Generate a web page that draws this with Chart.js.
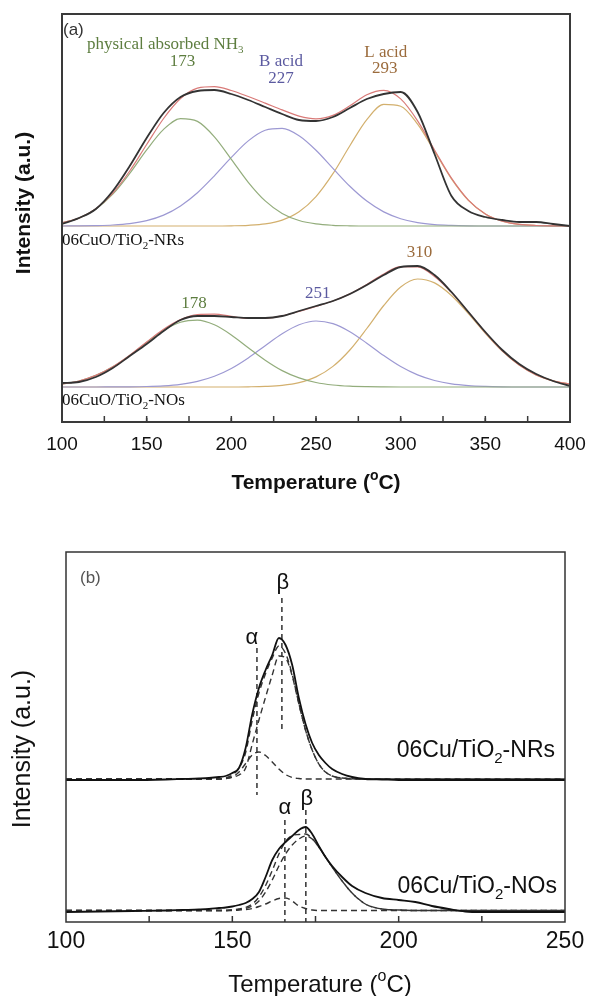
<!DOCTYPE html>
<html>
<head>
<meta charset="utf-8">
<script src="https://cdn.jsdelivr.net/npm/chart.js@4.4.1/dist/chart.umd.min.js"></script>
<style>
  html, body { margin: 0; padding: 0; background: #fff; }
  #wrap { position: relative; width: 590px; height: 996px; }
  canvas { position: absolute; left: 0; }
  #tpdA { top: 0; width: 590px; height: 500px; }
  #tpdB { top: 500px; width: 590px; height: 496px; }
</style>
</head>
<body>
<div id="wrap">
  <canvas id="tpdA" width="590" height="500"></canvas>
  <canvas id="tpdB" width="590" height="496"></canvas>
</div>
<script>
// ---- (a) NH3-TPD, 06CuO/TiO2-NRs and -NOs with three fitted peaks each ----
const tempA = [100,110,120,130,140,150,160,170,180,190,200,210,220,230,240,250,260,270,280,290,300,310,320,330,340,350,360,370,380,390,400];

// heights above each trace's own baseline
const nrsExp    = [2,8,17,35,60,88,113,129,135,136,132,126,119,112,106,105,109,118,127,132,134,114,72,30,15,9,6,4,4,2,0];
const nrsFit    = [3.2,7.9,17.3,32.8,55.0,81.5,107.5,127.5,137.9,139.4,135.5,129.5,122.9,116.1,109.9,107.2,110.6,120.2,131.3,135.7,127.1,105.2,76.0,47.8,25.9,12.1,4.9,1.7,0.5,0.1,0];
const nrsPhys   = [3.2,7.8,16.9,31.8,52.6,76.1,96.6,107.4,104.6,89.2,66.7,43.7,25.1,12.6,5.5,2.1,0.7,0.2,0,0,0,0,0,0,0,0,0,0,0,0,0];
const nrsBacid  = [0,0.1,0.4,1.0,2.4,5.4,10.9,20.1,33.3,50.2,68.6,85.1,95.7,97.6,90.2,75.7,57.6,39.7,24.9,14.1,7.3,3.4,1.4,0.6,0.2,0,0,0,0,0,0];
const nrsLacid  = [0,0,0,0,0,0,0,0,0,0,0.2,0.7,2.1,5.9,14.2,29.4,52.3,80.3,106.4,121.6,119.8,101.8,74.6,47.2,25.7,12.1,4.9,1.7,0.5,0.1,0];

const nosExp    = [4,5,10,19,31,43,56,67,71,71,70,69,69,71,76,81,86,93,102,112,120,121,112,95,75,55,37,23,13,6,1];
const nosFit    = [2.8,6.0,11.6,20.3,31.8,45.1,57.8,67.5,72.5,72.9,70.6,68.5,68.7,71.2,75.6,80.6,86.0,93.1,102.6,113.0,120.4,120.1,110.6,94.6,74.8,54.3,36.1,21.9,12.1,6.2,2.8];
const nosPhys   = [2.8,6.0,11.6,20.2,31.6,44.6,56.6,64.8,66.9,62.2,52.1,39.3,26.8,16.4,9.1,4.5,2.0,0.8,0.3,0.1,0,0,0,0,0,0,0,0,0,0,0];
const nosBacid  = [0,0,0,0.1,0.2,0.5,1.2,2.7,5.6,10.7,18.5,29.0,41.3,53.2,62.2,66.0,63.4,55.3,43.8,31.4,20.4,12.1,6.5,3.1,1.4,0.6,0.2,0,0,0,0];
const nosLacid  = [0,0,0,0,0,0,0,0,0,0,0,0.2,0.6,1.6,4.3,10.1,20.6,37.0,58.5,81.5,100.0,108,104.1,91.5,73.4,53.7,35.9,21.9,12.1,6.2,2.8];

const peaksNRs = [173, 227, 293];
const peaksNOs = [178, 251, 310];
const ticksA = [100, 150, 200, 250, 300, 350, 400];

// ---- (b) H2-TPR, 06Cu/TiO2-NRs and -NOs with alpha/beta components ----
const tempB = [100,110,120,130,135,140,143,146,148,150,152,154,156,158,160,162,164,166,168,170,172,174,176,178,180,183,186,190,195,200,205,210,215,220,225,230,240,250];

const nrsTpr      = [0,0,0,0.5,1,1.5,2,3,4,7,12,32,66,92,110,125,142,135,115,82,56,37,25,17,11,6,3,1,0.5,0,0,0,0,0,0,0,0,0];
const nrsTprFit   = [1,1,1,1,1,1,1,1,2,5,12,27.5,60,87,106.5,122,134,126.5,105.5,76.5,50,30,16,8,4,2,1.2,1,1,1,1,1,1,1,1,1,1,1];
const nrsAlpha    = [1,1,1,1,1,1,1,1,1.5,3,8,16.5,25,28,24.5,18,11,5.5,2.5,1.5,1,1,1,1,1,1,1,1,1,1,1,1,1,1,1,1,1,1];
const nrsBeta     = [1,1,1,1,1,1,1,1,1.5,3,5,12,36,60,83,105,124,122,104,76,50,30,16,8,4,2,1.2,1,1,1,1,1,1,1,1,1,1,1];

const nosTpr      = [0,0.5,1,1.5,2,2.5,3,4,4.5,5.5,7,9,13,20,35,52,63,70,76,82,85,78,66,55,46,35,26,19,14,12,10,6,3,0.5,0,0,0,0];
const nosTprFit   = [1.5,1.5,1.5,1.5,1.5,1.5,1.5,1.5,1.5,2,3,4.5,8,15,26.5,41.5,58,70.5,76.5,77.5,78,73.5,65,55,45,31,19,8,3,2,1.5,1.5,1.5,1.5,1.5,1.5,1.5,1.5];
const nosAlpha    = [1.5,1.5,1.5,1.5,1.5,1.5,1.5,1.5,1.5,1.5,2,2.5,3.5,5.5,8,11,13.5,14,11,6,3.5,2,1.5,1.5,1.5,1.5,1.5,1.5,1.5,1.5,1.5,1.5,1.5,1.5,1.5,1.5,1.5,1.5];
const nosBeta     = [1.5,1.5,1.5,1.5,1.5,1.5,1.5,1.5,1.5,2,2.5,3.5,6,11,20,32,46,58,67,73,76,73,65,55,45,31,19,8,3,2,1.5,1.5,1.5,1.5,1.5,1.5,1.5,1.5];

// alpha / beta peak temperatures
const markNRs = [157.4, 164.9];
const markNOs = [165.8, 172.1];
const ticksB = [100, 150, 200, 250];

// vertical offsets of the stacked traces (y units = px of the plot box)
const OFF_A_NRS = 196, OFF_A_NOS = 35;
const OFF_B_NRS = 142, OFF_B_NOS = 10;

const SANS = '"Liberation Sans", Arial, sans-serif';
const SERIF = '"Liberation Serif", "Times New Roman", serif';

function curve(temps, vals, off, color, width, dash) {
  return {
    data: temps.map((t, i) => ({ x: t, y: vals[i] + off })),
    borderColor: color,
    borderWidth: width,
    borderDash: dash || [],
    pointRadius: 0,
    fill: false,
    cubicInterpolationMode: 'monotone'
  };
}

function marker(t, y0, y1) {
  return {
    data: [{ x: t, y: y0 }, { x: t, y: y1 }],
    borderColor: '#222', borderWidth: 1.4, borderDash: [5, 4],
    pointRadius: 0, fill: false, tension: 0
  };
}

// text with sub (1) / superscript (2) runs
function richText(ctx, segs, x, y, size, family, weight, color, align) {
  const fontFor = k => `${weight} ${k ? Math.round(size * 0.65) : size}px ${family}`;
  let w = 0;
  segs.forEach(([t, k]) => { ctx.font = fontFor(k); w += ctx.measureText(t).width; });
  let cx = align === 'center' ? x - w / 2 : align === 'right' ? x - w : x;
  ctx.fillStyle = color;
  ctx.textBaseline = 'middle';
  ctx.textAlign = 'left';
  segs.forEach(([t, k]) => {
    ctx.font = fontFor(k);
    const dy = k === 1 ? size * 0.32 : k === 2 ? -size * 0.33 : 0;
    ctx.fillText(t, cx, y + dy);
    cx += ctx.measureText(t).width;
  });
}

function plainText(ctx, text, x, y, font, color, align) {
  ctx.font = font;
  ctx.fillStyle = color;
  ctx.textAlign = align || 'center';
  ctx.textBaseline = 'middle';
  ctx.fillText(text, x, y);
}

function verticalTitle(ctx, text, x, y, font, color) {
  ctx.save();
  ctx.translate(x, y);
  ctx.rotate(-Math.PI / 2);
  plainText(ctx, text, 0, 0, font, color, 'center');
  ctx.restore();
}

function innerTicks(ctx, chart, from, to, step, majorEvery, majorLen, minorLen) {
  const a = chart.chartArea, x = chart.scales.x;
  for (let t = from; t <= to; t += step) {
    const px = x.getPixelForValue(t);
    const len = (t - from) % majorEvery === 0 ? majorLen : minorLen;
    ctx.beginPath();
    ctx.moveTo(px, a.bottom);
    ctx.lineTo(px, a.bottom - len);
    ctx.stroke();
  }
}

function baseOptions(xmin, xmax, ymax, xTicks, tickSize, tickPad, axisW, axisH, padRight, padTop) {
  return {
    responsive: false,
    animation: false,
    events: [],
    layout: { padding: { left: 0, right: padRight, top: padTop, bottom: 0 } },
    plugins: { legend: { display: false }, tooltip: { enabled: false } },
    scales: {
      x: {
        type: 'linear', min: xmin, max: xmax,
        afterBuildTicks: s => { s.ticks = xTicks.map(v => ({ value: v })); },
        afterFit: s => { s.height = axisH; s.paddingLeft = 0; s.paddingRight = 0; },
        ticks: { font: { family: SANS, size: tickSize }, color: '#111', padding: tickPad, maxRotation: 0, autoSkip: false },
        grid: { display: false, drawTicks: false },
        border: { display: false }
      },
      y: {
        min: 0, max: ymax,
        afterFit: s => { s.width = axisW; },
        ticks: { display: false },
        grid: { display: false, drawTicks: false },
        border: { display: false }
      }
    }
  };
}

// ---------- panel (a) ----------
const GREEN = '#93ad7c', PURPLE = '#9d99d3', ORANGE = '#d3b06e', RED = '#d97a78', BLACK = '#333333';
const GREEN_T = '#5d7d3f', PURPLE_T = '#5b5aa0', BROWN_T = '#9b6b3c';

const decorA = {
  id: 'decorA',
  afterDraw(chart) {
    const { ctx, chartArea: a, scales: { x } } = chart;
    ctx.save();
    ctx.strokeStyle = '#3a3a3a';
    ctx.lineWidth = 2;
    ctx.strokeRect(a.left, a.top, a.right - a.left, a.bottom - a.top);
    ctx.lineWidth = 1.5;
    innerTicks(ctx, chart, 125, 375, 25, 50, 6, 4);
    innerTicks(ctx, chart, 150, 350, 50, 50, 6, 6);

    plainText(ctx, '(a)', 63, 30, `17px ${SANS}`, '#333', 'left');
    richText(ctx, [['physical absorbed NH', 0], ['3', 1]], 87, 45, 17, SERIF, 'normal', GREEN_T, 'left');
    plainText(ctx, String(peaksNRs[0]), x.getPixelForValue(peaksNRs[0]) - 3, 62, `17px ${SERIF}`, GREEN_T);
    plainText(ctx, 'B acid', x.getPixelForValue(peaksNRs[1]) + 4, 62, `17px ${SERIF}`, PURPLE_T);
    plainText(ctx, String(peaksNRs[1]), x.getPixelForValue(peaksNRs[1]) + 4, 79, `17px ${SERIF}`, PURPLE_T);
    plainText(ctx, 'L acid', x.getPixelForValue(peaksNRs[2]) - 3, 53, `17px ${SERIF}`, BROWN_T);
    plainText(ctx, String(peaksNRs[2]), x.getPixelForValue(peaksNRs[2]) - 4, 69, `17px ${SERIF}`, BROWN_T);
    plainText(ctx, String(peaksNOs[0]), x.getPixelForValue(peaksNOs[0]), 304, `17px ${SERIF}`, GREEN_T);
    plainText(ctx, String(peaksNOs[1]), x.getPixelForValue(peaksNOs[1]), 294, `17px ${SERIF}`, PURPLE_T);
    plainText(ctx, String(peaksNOs[2]), x.getPixelForValue(peaksNOs[2]) + 2, 253, `17px ${SERIF}`, BROWN_T);

    richText(ctx, [['06CuO/TiO', 0], ['2', 1], ['-NRs', 0]], 62, 241, 17, SERIF, 'normal', '#111', 'left');
    richText(ctx, [['06CuO/TiO', 0], ['2', 1], ['-NOs', 0]], 62, 401, 17, SERIF, 'normal', '#111', 'left');

    verticalTitle(ctx, 'Intensity (a.u.)', 24, 203, `bold 21px ${SANS}`, '#111');
    richText(ctx, [['Temperature (', 0], ['o', 2], ['C)', 0]], 316, 483, 21, SANS, 'bold', '#111', 'center');
    ctx.restore();
  }
};

new Chart(document.getElementById('tpdA'), {
  type: 'line',
  data: {
    datasets: [
      curve(tempA, nrsExp, OFF_A_NRS, BLACK, 1.8),
      curve(tempA, nrsFit, OFF_A_NRS, RED, 1.2),
      curve(tempA, nrsPhys, OFF_A_NRS, GREEN, 1.2),
      curve(tempA, nrsBacid, OFF_A_NRS, PURPLE, 1.2),
      curve(tempA, nrsLacid, OFF_A_NRS, ORANGE, 1.2),
      curve(tempA, nosExp, OFF_A_NOS, BLACK, 1.8),
      curve(tempA, nosFit, OFF_A_NOS, RED, 1.2),
      curve(tempA, nosPhys, OFF_A_NOS, GREEN, 1.2),
      curve(tempA, nosBacid, OFF_A_NOS, PURPLE, 1.2),
      curve(tempA, nosLacid, OFF_A_NOS, ORANGE, 1.2)
    ]
  },
  options: baseOptions(100, 400, 408, ticksA, 19, 11, 62, 78, 20, 14),
  plugins: [decorA]
});

// ---------- panel (b) ----------
const decorB = {
  id: 'decorB',
  afterDraw(chart) {
    const { ctx, chartArea: a, scales: { x } } = chart;
    ctx.save();
    ctx.strokeStyle = '#333';
    ctx.lineWidth = 1.5;
    ctx.strokeRect(a.left, a.top, a.right - a.left, a.bottom - a.top);
    innerTicks(ctx, chart, 125, 225, 25, 25, 6, 6);

    plainText(ctx, '(b)', 80, 78, `17px ${SANS}`, '#555', 'left');
    const greek = `22px ${SANS}`;
    plainText(ctx, 'α', x.getPixelForValue(markNRs[0]) - 5, 138, greek, '#111');
    plainText(ctx, 'β', x.getPixelForValue(markNRs[1]) + 1, 83, greek, '#111');
    plainText(ctx, 'α', x.getPixelForValue(markNOs[0]), 308, greek, '#111');
    plainText(ctx, 'β', x.getPixelForValue(markNOs[1]) + 1, 299, greek, '#111');

    richText(ctx, [['06Cu/TiO', 0], ['2', 1], ['-NRs', 0]], 555, 251, 23, SANS, 'normal', '#111', 'right');
    richText(ctx, [['06Cu/TiO', 0], ['2', 1], ['-NOs', 0]], 557, 387, 23, SANS, 'normal', '#111', 'right');

    verticalTitle(ctx, 'Intensity (a.u.)', 23, 249, `25px ${SANS}`, '#111');
    richText(ctx, [['Temperature (', 0], ['o', 2], ['C)', 0]], 320, 485, 24, SANS, 'normal', '#111', 'center');
    ctx.restore();
  }
};

const DASH = [6, 4];
new Chart(document.getElementById('tpdB'), {
  type: 'line',
  data: {
    datasets: [
      curve(tempB, nrsTpr, OFF_B_NRS, '#111', 1.8),
      curve(tempB, nrsTprFit, OFF_B_NRS, '#333', 1.4, DASH),
      curve(tempB, nrsAlpha, OFF_B_NRS, '#333', 1.4, DASH),
      curve(tempB, nrsBeta, OFF_B_NRS, '#333', 1.4, DASH),
      curve(tempB, nosTpr, OFF_B_NOS, '#111', 1.8),
      curve(tempB, nosTprFit, OFF_B_NOS, '#333', 1.4, DASH),
      curve(tempB, nosAlpha, OFF_B_NOS, '#333', 1.4, DASH),
      curve(tempB, nosBeta, OFF_B_NOS, '#333', 1.4, DASH),
      marker(markNRs[0], 274, 127),
      marker(markNRs[1], 324, 190),
      marker(markNOs[0], 102, 0),
      marker(markNOs[1], 112, 0)
    ]
  },
  options: baseOptions(100, 250, 370, ticksB, 23, 6, 66, 74, 25, 52),
  plugins: [decorB]
});
</script>
</body>
</html>
